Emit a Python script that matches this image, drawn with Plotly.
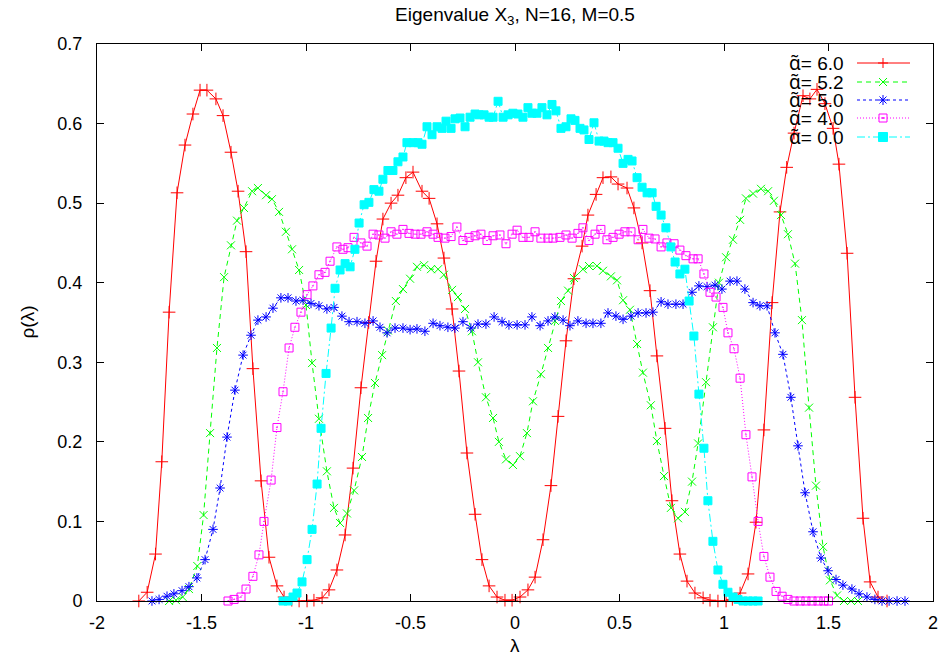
import plotly.graph_objects as go

# ---------------- data ----------------
x_a60 = [-1.80,-1.76,-1.72,-1.69,-1.655,-1.617,-1.579,-1.541,-1.507,-1.474,-1.431,-1.397,-1.359,-1.325,-1.287,-1.254,-1.215,-1.177,-1.139,-1.105,
         -1.068,-1.033,-0.995,-0.962,-0.923,-0.89,-0.852,-0.813,-0.775,-0.737,-0.70,-0.665,-0.632,-0.593,-0.56,-0.522,-0.488,-0.445,-0.411,-0.373,
         -0.34,-0.301,-0.268,-0.23,-0.191,-0.158,-0.124,-0.086,-0.048,-0.014,0.024,0.062,0.096,0.134,0.172,0.206,0.244,0.282,0.321,0.349,
         0.388,0.421,0.459,0.493,0.536,0.569,0.608,0.646,0.679,0.718,0.751,0.789,0.823,0.861,0.90,0.933,0.971,1.01,1.04,1.077,
         1.115,1.153,1.191,1.23,1.268,1.30,1.335,1.378,1.411,1.445,1.483,1.522,1.55,1.589,1.627,1.665,1.699,1.737,1.78]
y_a60 = [0,0.011,0.059,0.175,0.363,0.513,0.573,0.612,0.642,0.642,0.631,0.610,0.564,0.515,0.439,0.292,0.151,0.055,0.019,0.005,
         0.001,0,0,0.001,0.004,0.014,0.039,0.083,0.167,0.268,0.35,0.427,0.48,0.50,0.51,0.532,0.539,0.515,0.506,0.474,
         0.431,0.367,0.289,0.186,0.109,0.052,0.019,0.005,0.001,0.001,0.005,0.014,0.03,0.077,0.145,0.232,0.327,0.405,0.446,0.485,
         0.511,0.532,0.533,0.524,0.519,0.494,0.45,0.39,0.308,0.217,0.126,0.059,0.025,0.01,0.004,0.001,0,0,0.002,0.01,
         0.034,0.099,0.215,0.375,0.489,0.545,0.588,0.635,0.631,0.643,0.625,0.594,0.549,0.437,0.256,0.104,0.024,0.005,0]

x_a52 = [-1.655,-1.622,-1.59,-1.56,-1.52,-1.49,-1.459,-1.426,-1.392,-1.359,-1.33,-1.297,-1.258,-1.23,-1.191,-1.163,-1.129,-1.096,-1.067,-1.033,
         -1.0,-0.971,-0.938,-0.90,-0.866,-0.837,-0.804,-0.77,-0.732,-0.703,-0.67,-0.636,-0.608,-0.57,-0.536,-0.502,-0.469,-0.435,-0.402,-0.368,
         -0.34,-0.301,-0.273,-0.239,-0.206,-0.177,-0.139,-0.105,-0.077,-0.043,-0.01,0.024,0.057,0.086,0.124,0.158,0.191,0.22,0.254,0.282,
         0.325,0.354,0.392,0.421,0.459,0.488,0.517,0.55,0.584,0.612,0.65,0.679,0.713,0.746,0.78,0.813,0.847,0.876,0.914,0.947,
         0.976,1.01,1.043,1.077,1.105,1.139,1.177,1.211,1.239,1.273,1.306,1.34,1.373,1.407,1.44,1.474,1.507,1.541,1.574,1.608,1.641]
y_a52 = [0,0.001,0.005,0.015,0.044,0.108,0.211,0.318,0.407,0.447,0.478,0.494,0.515,0.519,0.51,0.505,0.489,0.464,0.442,0.416,
         0.372,0.299,0.229,0.163,0.117,0.098,0.11,0.139,0.181,0.23,0.274,0.309,0.34,0.377,0.392,0.405,0.42,0.422,0.417,0.417,
         0.41,0.391,0.382,0.367,0.339,0.30,0.256,0.23,0.20,0.178,0.171,0.182,0.211,0.251,0.285,0.318,0.352,0.377,0.39,0.406,
         0.417,0.421,0.421,0.415,0.408,0.403,0.378,0.366,0.323,0.287,0.246,0.201,0.157,0.117,0.104,0.112,0.15,0.198,0.275,0.344,
         0.40,0.432,0.454,0.479,0.506,0.512,0.518,0.515,0.503,0.485,0.461,0.424,0.353,0.243,0.145,0.068,0.026,0.007,0,0,0]

x_a50 = [-1.737,-1.703,-1.665,-1.632,-1.593,-1.56,-1.522,-1.483,-1.445,-1.411,-1.378,-1.34,-1.301,-1.263,-1.23,-1.191,-1.158,-1.12,-1.086,-1.048,
         -1.014,-0.976,-0.938,-0.90,-0.866,-0.828,-0.794,-0.756,-0.718,-0.679,-0.646,-0.612,-0.574,-0.536,-0.502,-0.469,-0.431,-0.392,-0.359,-0.321,
         -0.287,-0.249,-0.211,-0.177,-0.139,-0.10,-0.062,-0.029,0.01,0.048,0.081,0.12,0.158,0.191,0.23,0.263,0.301,0.34,0.373,0.411,
         0.445,0.483,0.517,0.555,0.589,0.627,0.66,0.699,0.732,0.77,0.804,0.847,0.88,0.919,0.957,0.99,1.029,1.062,1.10,1.139,
         1.172,1.206,1.244,1.282,1.32,1.354,1.388,1.426,1.464,1.498,1.536,1.569,1.612,1.646,1.684,1.722,1.756,1.79,1.828,1.866]
y_a50 = [0,0.002,0.006,0.009,0.013,0.018,0.029,0.052,0.09,0.142,0.206,0.265,0.309,0.334,0.353,0.357,0.368,0.381,0.381,0.377,
         0.378,0.374,0.371,0.367,0.369,0.358,0.351,0.351,0.349,0.352,0.344,0.337,0.343,0.343,0.341,0.342,0.339,0.349,0.346,0.344,
         0.343,0.351,0.343,0.348,0.348,0.357,0.351,0.347,0.347,0.347,0.357,0.346,0.352,0.357,0.353,0.346,0.352,0.349,0.349,0.349,
         0.362,0.358,0.354,0.358,0.362,0.362,0.363,0.376,0.373,0.373,0.373,0.388,0.396,0.395,0.397,0.392,0.402,0.402,0.392,0.375,
         0.371,0.371,0.337,0.31,0.256,0.195,0.136,0.087,0.054,0.038,0.027,0.02,0.015,0.009,0.005,0.002,0,0,0,0]

x_a40 = [-1.373,-1.344,-1.311,-1.287,-1.254,-1.225,-1.201,-1.167,-1.139,-1.11,-1.081,-1.053,-1.024,-0.995,-0.967,-0.938,-0.909,-0.885,-0.852,-0.823,
         -0.799,-0.77,-0.737,-0.708,-0.679,-0.651,-0.622,-0.593,-0.565,-0.536,-0.507,-0.478,-0.45,-0.421,-0.392,-0.368,-0.335,-0.306,-0.278,-0.249,
         -0.22,-0.191,-0.163,-0.134,-0.105,-0.072,-0.043,-0.014,0.01,0.038,0.067,0.096,0.124,0.158,0.182,0.215,0.244,0.273,0.301,0.325,
         0.354,0.383,0.411,0.44,0.469,0.498,0.526,0.555,0.589,0.612,0.641,0.67,0.699,0.727,0.761,0.789,0.818,0.852,0.876,0.904,
         0.933,0.962,0.995,1.019,1.048,1.077,1.105,1.134,1.163,1.191,1.22,1.249,1.278,1.306,1.335,1.364,1.392,1.421,1.45,1.478,1.50]
y_a40 = [0,0.002,0.005,0.015,0.031,0.058,0.10,0.152,0.218,0.263,0.318,0.344,0.363,0.385,0.396,0.41,0.413,0.427,0.445,0.442,
         0.444,0.457,0.45,0.446,0.461,0.46,0.456,0.464,0.461,0.467,0.462,0.461,0.461,0.464,0.461,0.457,0.456,0.458,0.47,0.453,
         0.457,0.459,0.461,0.453,0.459,0.46,0.449,0.461,0.466,0.457,0.457,0.464,0.456,0.456,0.456,0.457,0.46,0.456,0.462,0.469,
         0.453,0.461,0.467,0.454,0.457,0.461,0.464,0.464,0.454,0.467,0.456,0.455,0.445,0.45,0.449,0.441,0.434,0.43,0.43,0.411,
         0.388,0.382,0.369,0.337,0.317,0.28,0.209,0.156,0.10,0.056,0.03,0.012,0.006,0.002,0,0,0,0,0,0,0]

x_a00 = [-1.11,-1.086,-1.062,-1.043,-1.019,-0.995,-0.971,-0.947,-0.928,-0.904,-0.88,-0.861,-0.837,-0.813,-0.789,-0.766,-0.746,-0.722,-0.699,-0.675,
         -0.651,-0.632,-0.608,-0.584,-0.56,-0.536,-0.517,-0.488,-0.464,-0.445,-0.421,-0.397,-0.373,-0.349,-0.33,-0.306,-0.287,-0.263,-0.239,-0.215,
         -0.191,-0.172,-0.148,-0.124,-0.105,-0.081,-0.057,-0.033,-0.01,0.014,0.038,0.062,0.081,0.105,0.129,0.153,0.177,0.196,0.22,0.244,
         0.268,0.287,0.311,0.33,0.354,0.378,0.402,0.426,0.445,0.469,0.493,0.517,0.541,0.56,0.584,0.608,0.632,0.656,0.675,0.699,
         0.722,0.746,0.766,0.789,0.813,0.833,0.856,0.88,0.904,0.923,0.947,0.971,0.995,1.019,1.043,1.067,1.091,1.115,1.139,1.163]
y_a00 = [0,0,0.005,0.01,0.024,0.052,0.09,0.147,0.217,0.286,0.343,0.393,0.416,0.424,0.42,0.442,0.475,0.498,0.501,0.517,
         0.515,0.53,0.541,0.541,0.552,0.558,0.576,0.576,0.576,0.574,0.596,0.586,0.596,0.594,0.603,0.594,0.606,0.607,0.596,0.608,
         0.612,0.611,0.611,0.608,0.608,0.628,0.608,0.611,0.613,0.612,0.608,0.62,0.613,0.613,0.62,0.611,0.624,0.616,0.594,0.596,
         0.606,0.604,0.594,0.592,0.58,0.601,0.578,0.578,0.576,0.576,0.569,0.55,0.555,0.553,0.532,0.52,0.513,0.513,0.496,0.485,
         0.469,0.445,0.426,0.411,0.417,0.377,0.333,0.26,0.192,0.126,0.075,0.039,0.021,0.011,0.005,0.002,0,0,0,0]

alpha_labels = ["6.0", "5.2", "5.0", "4.0", "0.0"]
x_tick_vals = [-2, -1.5, -1, -0.5, 0, 0.5, 1, 1.5, 2]
x_tick_text = ["-2", "-1.5", "-1", "-0.5", "0", "0.5", "1", "1.5", "2"]
y_tick_vals = [0, 0.1, 0.2, 0.3, 0.4, 0.5, 0.6, 0.7]
y_tick_text = ["0", "0.1", "0.2", "0.3", "0.4", "0.5", "0.6", "0.7"]

xs = [x_a60, x_a52, x_a50, x_a40, x_a00]
ys = [y_a60, y_a52, y_a50, y_a40, y_a00]
for a, b in zip(xs, ys):
    assert len(a) == len(b), (len(a), len(b))

# ---------------- styles ----------------
styles = [
    dict(color="#ff0000", dash="solid", symbol="cross-thin-open", size=9, key="plus"),
    dict(color="#00ff00", dash="5px,4px", symbol="x-thin-open", size=8, key="x"),
    dict(color="#0000ff", dash="3px,3px", symbol="asterisk-open", size=8, key="star"),
    dict(color="#ff00ff", dash="1px,2px", symbol="square-open-dot", size=8, key="box"),
    dict(color="#00ffff", dash="8px,3px,2px,3px", symbol="square", size=8, key="fbox"),
]

FONT = "Liberation Sans, Arial, Helvetica, sans-serif"
W, H = 943, 661
L, R, T, B = 97, 10, 44, 60
PW, PH = W - L - R, H - T - B

def px_x(p):  # pixel -> paper x
    return (p - L) / PW

def px_y(p):  # pixel -> paper y
    return (H - B - p) / PH

fig = go.Figure()
for lab, xv, yv, st in zip(alpha_labels, xs, ys, styles):
    fig.add_trace(go.Scatter(
        x=xv, y=yv, name="α̃= " + lab, mode="lines+markers", cliponaxis=False,
        showlegend=False, hoverinfo="skip",
        line=dict(color=st["color"], width=1, dash=st["dash"]),
        marker=dict(symbol=st["symbol"], size=st["size"], color=st["color"],
                    line=dict(color=st["color"], width=1)),
    ))

# ------------- gnuplot-style key (text left, sample right) -------------
shapes = []
annotations = []
row_px = [63, 82, 100, 118, 137]
text_right_px, samp_x0_px, samp_x1_px, mark_px = 846, 857, 910, 883

def seg(cx, cy, x0, y0, x1, y1, color):
    return dict(type="line", xref="paper", yref="paper",
                xsizemode="pixel", ysizemode="pixel", xanchor=cx, yanchor=cy,
                x0=x0, y0=y0, x1=x1, y1=y1, line=dict(color=color, width=1))

def box(cx, cy, h, color, filled):
    return dict(type="rect", xref="paper", yref="paper",
                xsizemode="pixel", ysizemode="pixel", xanchor=cx, yanchor=cy,
                x0=-h, y0=-h, x1=h, y1=h,
                line=dict(color=color, width=1),
                fillcolor=color if filled else "rgba(0,0,0,0)")

for lab, st, rp in zip(alpha_labels, styles, row_px):
    cy = px_y(rp)
    c = st["color"]
    annotations.append(dict(
        text="<span style='font-family:Noto Sans, DejaVu Sans'>α̃</span>= " + lab,
        xref="paper", yref="paper", x=px_x(text_right_px), y=cy,
        xanchor="right", yanchor="middle", showarrow=False,
        font=dict(family=FONT, size=19, color="black")))
    shapes.append(dict(type="line", xref="paper", yref="paper",
                       x0=px_x(samp_x0_px), x1=px_x(samp_x1_px), y0=cy, y1=cy,
                       line=dict(color=c, width=1, dash=st["dash"])))
    cx = px_x(mark_px)
    k = st["key"]
    if k in ("plus", "star"):
        shapes.append(seg(cx, cy, -5, 0, 5, 0, c))
        shapes.append(seg(cx, cy, 0, -5, 0, 5, c))
    if k in ("x", "star"):
        d = 4 if k == "x" else 3.5
        shapes.append(seg(cx, cy, -d, -d, d, d, c))
        shapes.append(seg(cx, cy, -d, d, d, -d, c))
    if k == "box":
        shapes.append(box(cx, cy, 4, c, False))
        shapes.append(box(cx, cy, 0.5, c, True))
    if k == "fbox":
        shapes.append(box(cx, cy, 4.5, c, True))

axis_common = dict(
    showgrid=False, zeroline=False, showline=True, linecolor="black", linewidth=1,
    mirror="ticks", ticks="inside", ticklen=7, tickcolor="black", tickwidth=1,
    tickfont=dict(family=FONT, size=18, color="black"),
)
fig.update_xaxes(range=[-2, 2], tickvals=x_tick_vals, ticktext=x_tick_text,
                 ticklabelstandoff=5, **axis_common)
fig.update_yaxes(range=[0, 0.7], tickvals=y_tick_vals, ticktext=y_tick_text,
                 ticklabelstandoff=10, **axis_common)

annotations += [
    dict(text="λ", xref="paper", yref="paper", x=0.5, y=px_y(645),
         xanchor="center", yanchor="middle", showarrow=False,
         font=dict(family=FONT, size=19, color="black")),
    dict(text="ρ(λ)", xref="paper", yref="paper", x=px_x(27), y=0.5,
         xanchor="center", yanchor="middle", textangle=-90, showarrow=False,
         font=dict(family=FONT, size=19, color="black")),
]

fig.update_layout(
    width=W, height=H,
    margin=dict(l=L, r=R, t=T, b=B, autoexpand=False),
    paper_bgcolor="white", plot_bgcolor="white",
    font=dict(family=FONT, size=18, color="black"),
    title=dict(text="Eigenvalue X<sub>3</sub>, N=16, M=0.5", x=0.5, xref="paper",
               y=1 - 14 / H, yref="container", yanchor="middle",
               font=dict(family=FONT, size=19, color="black")),
    showlegend=False,
    hovermode=False,
    shapes=shapes,
    annotations=annotations,
)

fig.write_html("out.html", config={"displayModeBar": False, "staticPlot": True},
               post_script="document.body.style.margin='0px';")
